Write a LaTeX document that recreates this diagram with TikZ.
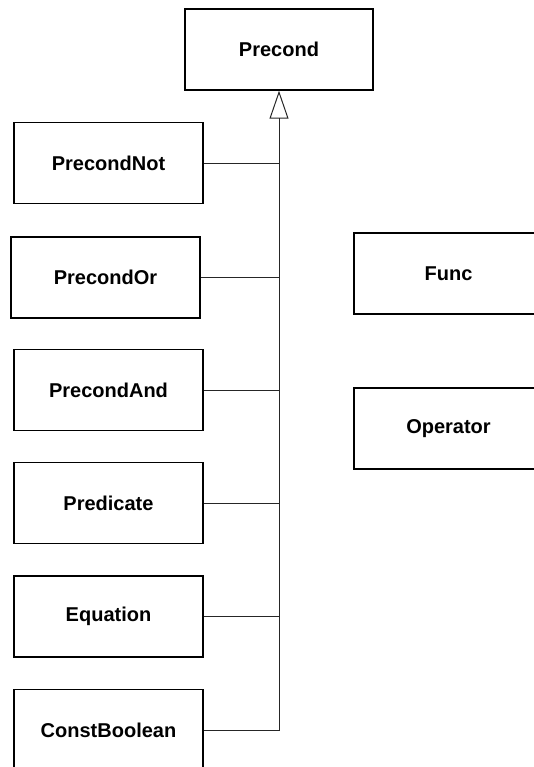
\documentclass[tikz,border=0pt]{standalone}
\usepackage{fontspec}
\setmainfont{Liberation Sans}
\usetikzlibrary{arrows.meta}
\begin{document}
\begin{tikzpicture}[x=1pt,y=-1pt,
  classbox/.style={draw=black,line width=1.4pt,fill=white,rectangle,
    minimum width=189pt,minimum height=81pt,inner sep=0pt,
    font=\fontsize{20}{24}\selectfont\bfseries},
  link/.style={draw=black!85,line width=0.9pt},
  inherit/.style={link,-{Triangle[open,length=28pt,width=19pt,line width=1pt]}}]
  \useasboundingbox (0,0) rectangle (534,767);
  \clip (0,0) rectangle (534,767);

  % superclass
  \node[classbox,minimum width=188pt] (precond) at (279,49.5) {Precond};

  % subclasses down the left column
  \node[classbox] (pnot)  at (108.5,163)   {PrecondNot};
  \node[classbox] (por)   at (105.5,277.5) {PrecondOr};
  \node[classbox] (pand)  at (108.5,390)   {PrecondAnd};
  \node[classbox] (pred)  at (108.5,503)   {Predicate};
  \node[classbox] (eqn)   at (108.5,616.5) {Equation};
  \node[classbox] (cbool) at (108.5,730)   {ConstBoolean};

  % unrelated classes on the right
  \node[classbox] (func) at (448.5,273.5) {Func};
  \node[classbox] (oper) at (448.5,428.5) {Operator};

  % generalisation trunk with hollow triangle
  \draw[inherit] (cbool.east) -| (precond.south);
  \foreach \n in {pnot,por,pand,pred,eqn}
    \draw[link] (\n.east) -- (\n.east -| precond.south);
\end{tikzpicture}
\end{document}
